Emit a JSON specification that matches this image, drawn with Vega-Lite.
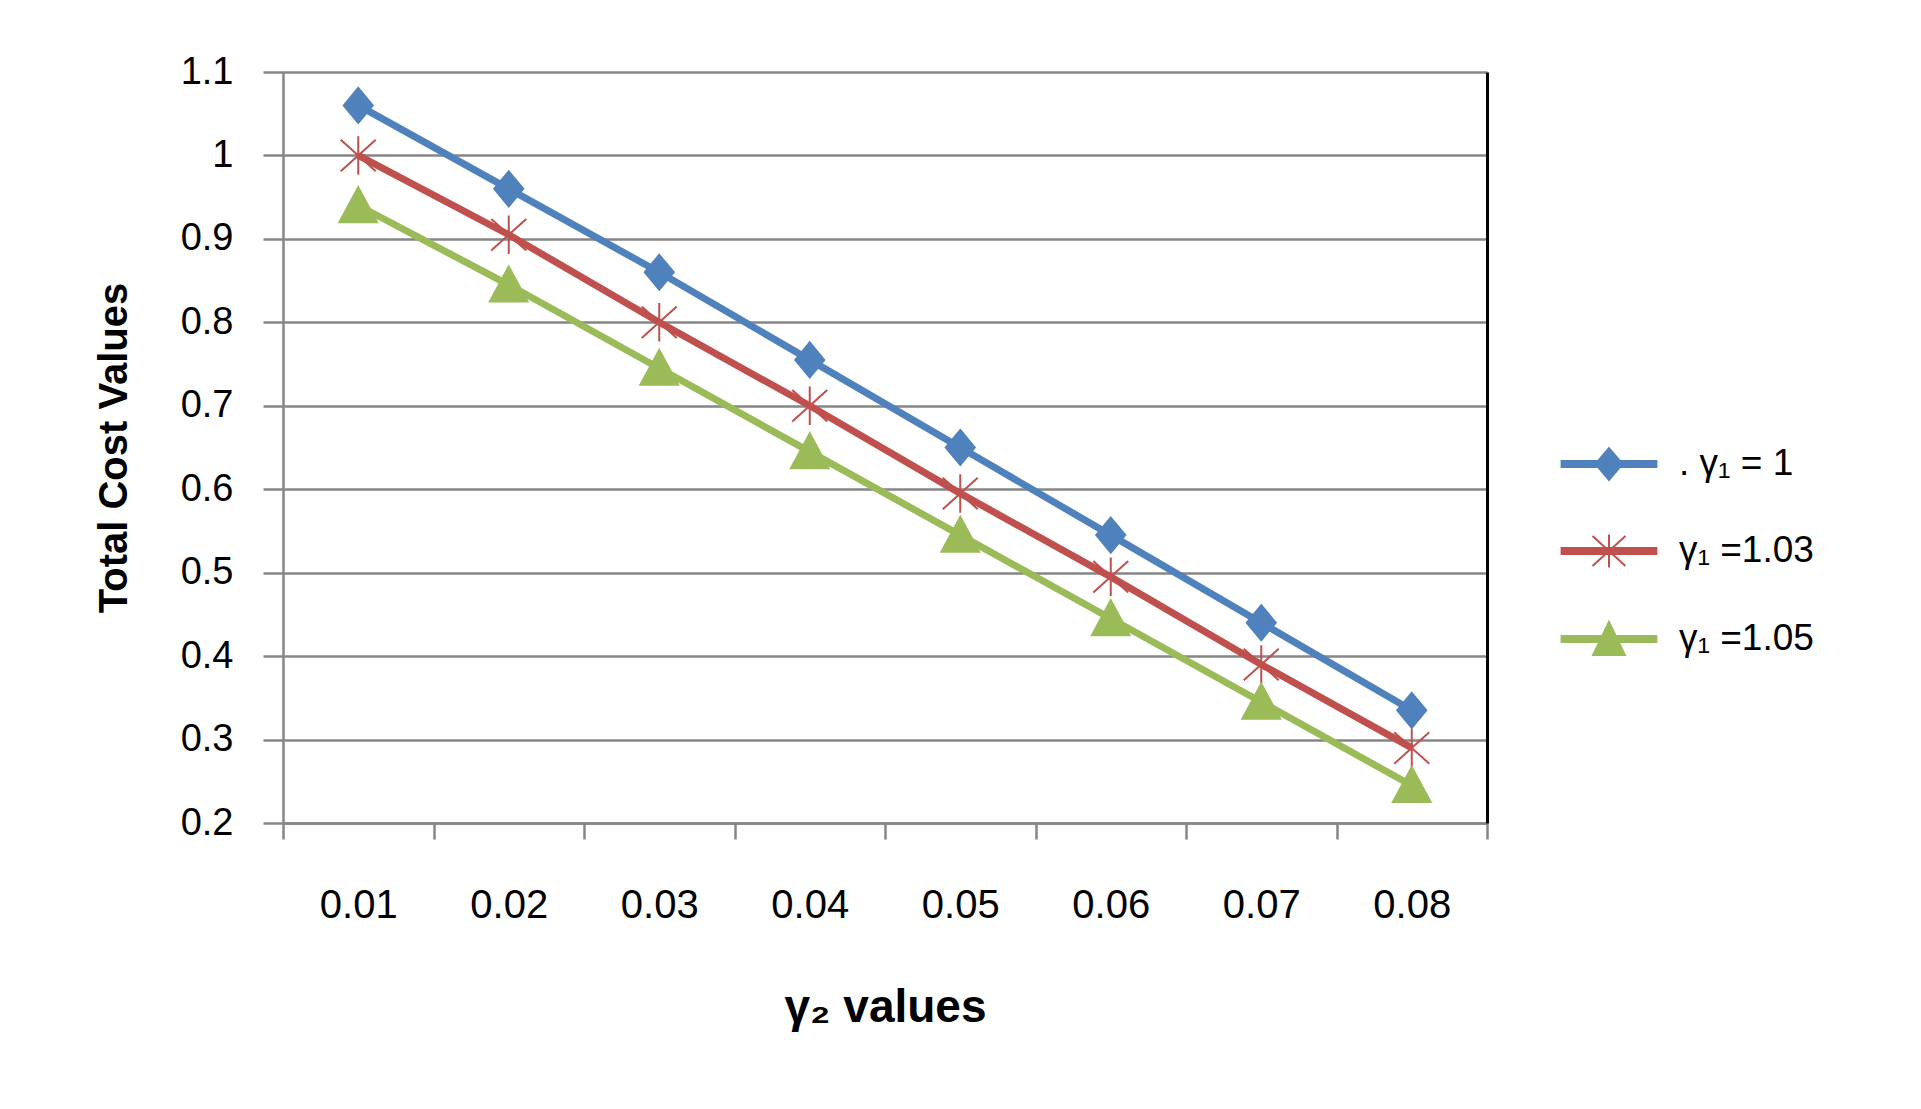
{
  "$schema": "https://vega.github.io/schema/vega-lite/v6.json",
  "autosize": {"type": "none"},
  "padding": {"left": 283, "top": 72, "right": 434, "bottom": 286},
  "width": 1204,
  "height": 751,
  "background": "white",
  "config": {"view": {"stroke": null}, "font": "Liberation Sans"},
  "data": {
    "values": [
      {"g2": "0.01", "s": ". γ₁ = 1", "v": 1.06},
      {"g2": "0.02", "s": ". γ₁ = 1", "v": 0.96},
      {"g2": "0.03", "s": ". γ₁ = 1", "v": 0.86},
      {"g2": "0.04", "s": ". γ₁ = 1", "v": 0.755},
      {"g2": "0.05", "s": ". γ₁ = 1", "v": 0.65},
      {"g2": "0.06", "s": ". γ₁ = 1", "v": 0.545},
      {"g2": "0.07", "s": ". γ₁ = 1", "v": 0.44},
      {"g2": "0.08", "s": ". γ₁ = 1", "v": 0.335},
      {"g2": "0.01", "s": "γ₁ =1.03", "v": 1.0},
      {"g2": "0.02", "s": "γ₁ =1.03", "v": 0.905},
      {"g2": "0.03", "s": "γ₁ =1.03", "v": 0.8},
      {"g2": "0.04", "s": "γ₁ =1.03", "v": 0.7},
      {"g2": "0.05", "s": "γ₁ =1.03", "v": 0.595},
      {"g2": "0.06", "s": "γ₁ =1.03", "v": 0.495},
      {"g2": "0.07", "s": "γ₁ =1.03", "v": 0.39},
      {"g2": "0.08", "s": "γ₁ =1.03", "v": 0.29},
      {"g2": "0.01", "s": "γ₁ =1.05", "v": 0.94},
      {"g2": "0.02", "s": "γ₁ =1.05", "v": 0.845},
      {"g2": "0.03", "s": "γ₁ =1.05", "v": 0.745},
      {"g2": "0.04", "s": "γ₁ =1.05", "v": 0.645},
      {"g2": "0.05", "s": "γ₁ =1.05", "v": 0.545},
      {"g2": "0.06", "s": "γ₁ =1.05", "v": 0.445},
      {"g2": "0.07", "s": "γ₁ =1.05", "v": 0.345},
      {"g2": "0.08", "s": "γ₁ =1.05", "v": 0.245}
    ]
  },
  "encoding": {
    "x": {
      "field": "g2",
      "type": "ordinal",
      "bandPosition": 0.5,
      "scale": {"type": "band", "paddingInner": 0, "paddingOuter": 0},
      "axis": {
        "title": "γ₂ values",
        "titleFontSize": 46,
        "titleFontWeight": "bold",
        "titleColor": "black",
        "titlePadding": 60,
        "labelAngle": 0,
        "labelFontSize": 40,
        "labelColor": "black",
        "labelPadding": 46,
        "domainColor": "#868686",
        "domainWidth": 2.5,
        "tickColor": "#868686",
        "tickWidth": 2.5,
        "tickSize": 16,
        "tickBand": "extent",
        "tickExtra": true,
        "grid": false
      }
    },
    "y": {
      "field": "v",
      "type": "quantitative",
      "scale": {"domain": [0.2, 1.1], "nice": false, "zero": false},
      "axis": null
    }
  },
  "layer": [
    {
      "mark": {"type": "line", "strokeWidth": 7},
      "encoding": {
        "color": {
          "field": "s",
          "type": "nominal",
          "scale": {"domain": [". γ₁ = 1", "γ₁ =1.03", "γ₁ =1.05"], "range": ["#4F81BD", "#C0504D", "#9BBB59"]},
          "legend": null
        },
        "y": {
          "field": "v",
          "type": "quantitative",
          "scale": {"domain": [0.2, 1.1], "nice": false, "zero": false},
          "axis": {
            "orient": "left",
            "values": [0.2, 0.3, 0.4, 0.5, 0.6, 0.7, 0.8, 0.9, 1.0, 1.1],
            "format": ".1~f",
            "title": "Total Cost Values",
            "titleFontSize": 40,
            "titleFontWeight": "bold",
            "titleColor": "black",
            "titlePadding": 46,
            "labelFontSize": 38,
            "labelColor": "black",
            "labelPadding": 30,
            "domainColor": "#868686",
            "domainWidth": 2.5,
            "tickColor": "#868686",
            "tickWidth": 2.5,
            "tickSize": 20,
            "grid": true,
            "gridColor": "#868686",
            "gridWidth": 2.5,
            "gridOpacity": 1
          }
        }
      }
    },
    {
      "mark": {"type": "point", "filled": true, "strokeWidth": 2, "opacity": 1, "size": 1225},
      "encoding": {
        "fill": {
          "field": "s",
          "type": "nominal",
          "scale": {"domain": [". γ₁ = 1", "γ₁ =1.03", "γ₁ =1.05"], "range": ["#4F81BD", "#C0504D", "#9BBB59"]},
          "legend": null
        },
        "stroke": {
          "field": "s",
          "type": "nominal",
          "scale": {"domain": [". γ₁ = 1", "γ₁ =1.03", "γ₁ =1.05"], "range": ["#4F81BD", "#C0504D", "#9BBB59"]},
          "legend": null
        },
        "shape": {
          "field": "s",
          "type": "nominal",
          "scale": {
            "domain": [". γ₁ = 1", "γ₁ =1.03", "γ₁ =1.05"],
            "range": [
              "M0,-1L0.83,0L0,1L-0.83,0Z",
              "M0,-1.1L0,1.1M-1,-0.9L1,0.9M-1,0.9L1,-0.9",
              "M0,-1.05L1.08,0.95L-1.08,0.95Z"
            ]
          },
          "legend": null
        },
        "y": {
          "field": "v",
          "type": "quantitative",
          "scale": {"domain": [0.2, 1.1], "nice": false, "zero": false},
          "axis": {
            "orient": "right",
            "labels": false,
            "ticks": false,
            "grid": false,
            "title": null,
            "domainColor": "black",
            "domainWidth": 3
          }
        }
      }
    },
    {
      "transform": [{"filter": "datum.v > 100"}],
      "mark": {"type": "point", "filled": true, "strokeWidth": 2, "opacity": 1},
      "encoding": {
        "fill": {
          "field": "s",
          "type": "nominal",
          "scale": {"domain": [". γ₁ = 1", "γ₁ =1.03", "γ₁ =1.05"], "range": ["#4F81BD", "#C0504D", "#9BBB59"]},
          "legend": {
            "title": null,
            "orient": "none",
            "legendX": 1295,
            "legendY": 361,
            "padding": 0,
            "symbolSize": 3600,
            "symbolStrokeWidth": 2,
            "symbolOpacity": 1,
            "labelFontSize": 37,
            "labelColor": "black",
            "labelOffset": 39,
            "rowPadding": 36
          }
        },
        "stroke": {
          "field": "s",
          "type": "nominal",
          "scale": {"domain": [". γ₁ = 1", "γ₁ =1.03", "γ₁ =1.05"], "range": ["#4F81BD", "#C0504D", "#9BBB59"]},
          "legend": {
            "title": null,
            "orient": "none",
            "legendX": 1295,
            "legendY": 361,
            "padding": 0,
            "symbolSize": 3600,
            "symbolStrokeWidth": 2,
            "symbolOpacity": 1,
            "labelFontSize": 37,
            "labelColor": "black",
            "labelOffset": 39,
            "rowPadding": 36
          }
        },
        "shape": {
          "field": "s",
          "type": "nominal",
          "scale": {
            "domain": [". γ₁ = 1", "γ₁ =1.03", "γ₁ =1.05"],
            "range": [
              "M-1.58,-0.1L1.58,-0.1L1.58,0.1L-1.58,0.1Z M0,-0.53L0.45,0L0,0.53L-0.45,0Z",
              "M-1.58,-0.1L1.58,-0.1L1.58,0.1L-1.58,0.1Z M0,-0.55L0,0.55 M-0.55,-0.5L0.55,0.5 M-0.55,0.5L0.55,-0.5",
              "M-1.58,-0.1L1.58,-0.1L1.58,0.1L-1.58,0.1Z M0,-0.57L0.53,0.53L-0.53,0.53Z"
            ]
          },
          "legend": {
            "title": null,
            "orient": "none",
            "legendX": 1295,
            "legendY": 361,
            "padding": 0,
            "symbolSize": 3600,
            "symbolStrokeWidth": 2,
            "symbolOpacity": 1,
            "labelFontSize": 37,
            "labelColor": "black",
            "labelOffset": 39,
            "rowPadding": 36
          }
        }
      }
    }
  ],
  "resolve": {
    "scale": {"shape": "independent"},
    "axis": {"y": "independent"},
    "legend": {"fill": "independent", "stroke": "independent", "shape": "independent"}
  }
}
